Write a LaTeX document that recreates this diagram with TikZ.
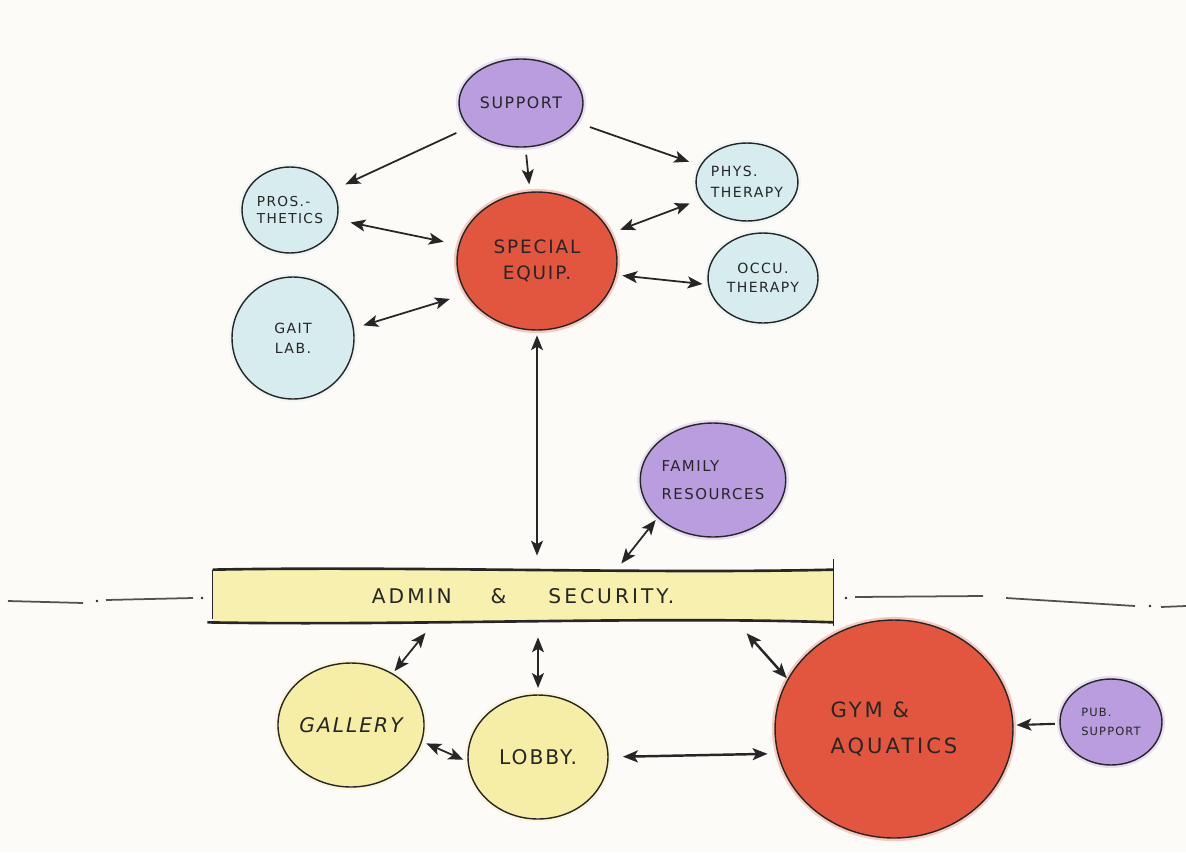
\documentclass[tikz,border=0pt]{standalone}
\usepackage{fontspec}
\setmainfont{DejaVu Sans}[LetterSpace=10]
\usetikzlibrary{arrows.meta,shapes.geometric,calc}
\definecolor{paper}{HTML}{FCFBF8}
\definecolor{inkc}{HTML}{262626}
\definecolor{lilac}{HTML}{B99DDF}
\definecolor{ice}{HTML}{D7ECEF}
\definecolor{tomato}{HTML}{E2563F}
\definecolor{butter}{HTML}{F6EDA6}
\definecolor{barfill}{HTML}{F7F0AE}
\tikzset{
  myhead/.tip={Stealth[length=8.5pt,width=6.8pt,inset=2pt]},
}
\begin{document}
\begin{tikzpicture}[x=0.02cm,y=-0.02cm,
  bubble/.style={ellipse, draw=inkc, line width=0.8pt, inner sep=0pt, outer sep=0pt, text=inkc,
                 fill=#1, preaction={draw=#1, draw opacity=0.3, line width=3.5pt}},
  one/.style={line width=1pt, draw=inkc, -myhead},
  two/.style={line width=1pt, draw=inkc, myhead-myhead},
  axisline/.style={line width=1pt, draw=inkc!80},
]
\fill[paper] (0,0) rectangle (1186,852);
\useasboundingbox (0,0) rectangle (1186,852);

% ---- dash-dot axis ----
\draw[axisline] (8,601) -- (83,603);
\draw[axisline] (106,600) -- (193,598);
\fill[inkc] (97,601) circle (1.3) (202,598) circle (1.3);
\draw[axisline] (855,597) -- (983,596);
\draw[axisline] (1006,598) -- (1135,606);
\draw[axisline] (1161,607) -- (1186,606);
\fill[inkc] (846,598) circle (1.3) (1150,606) circle (1.3);

% ---- nodes ----
\node[bubble=lilac, minimum width=2.48cm, minimum height=1.76cm,
      font=\fontsize{9}{11}\selectfont] (support) at (521,103) {SUPPORT};
\node[bubble=ice, minimum width=1.92cm, minimum height=1.72cm, align=left,
      font=\fontsize{7.8}{9.5}\selectfont] (pros) at (290,210) {PROS.-\\THETICS};
\node[bubble=ice, minimum width=1.96cm, minimum height=1.56cm, align=left,
      font=\fontsize{8}{12}\selectfont] (phys) at (747,182) {PHYS.\\THERAPY};
\node[bubble=tomato, minimum width=3.2cm, minimum height=2.76cm, align=center,
      font=\fontsize{10.5}{15}\selectfont] (special) at (537,261) {SPECIAL\\EQUIP.};
\node[bubble=ice, minimum width=2.2cm, minimum height=1.8cm, align=center,
      font=\fontsize{8}{10.5}\selectfont] (occu) at (763,278) {OCCU.\\THERAPY};
\node[bubble=ice, minimum width=2.44cm, minimum height=2.44cm, align=center,
      font=\fontsize{8}{11.5}\selectfont] (gait) at (293,338) {GAIT\\LAB.};
\node[bubble=lilac, minimum width=2.88cm, minimum height=2.28cm, align=left,
      font=\fontsize{8.5}{16}\selectfont] (family) at (713,480) {FAMILY\\RESOURCES};

\node[fill=barfill, minimum width=12.4cm, minimum height=1.04cm, inner sep=0pt,
      text=inkc, font=\fontsize{11.5}{13}\selectfont\addfontfeature{LetterSpace=15}]
      (admin) at (523,596) {ADMIN\hspace{22pt}\&\hspace{24pt}SECURITY.\hspace{26pt}};
\draw[inkc, line width=1.5pt] (admin.north west) .. controls (400,566) and (650,574) .. (admin.north east);
\draw[inkc, line width=1.5pt] ([xshift=-3pt]admin.south west) .. controls (400,626) and (650,616) .. (admin.south east);
\draw[inkc, line width=0.8pt] (admin.north west) -- ([yshift=2pt]admin.south west);
\draw[inkc, line width=0.8pt] ([yshift=6pt]admin.north east) -- ([yshift=-2pt]admin.south east);

\node[bubble=butter, minimum width=2.76cm, minimum height=2.48cm,
      font=\fontsize{11.5}{13}\selectfont\itshape] (gallery) at (351,725) {GALLERY};
\node[bubble=butter, minimum width=2.8cm, minimum height=2.48cm,
      font=\fontsize{11.5}{13}\selectfont] (lobby) at (538,757) {LOBBY.};
\node[bubble=tomato, minimum width=4.76cm, minimum height=4.36cm, align=left,
      font=\fontsize{12}{20}\selectfont\addfontfeature{LetterSpace=14}] (gym) at (894,729) {GYM \&\\AQUATICS};
\node[bubble=lilac, minimum width=2.04cm, minimum height=1.72cm, align=left,
      font=\fontsize{6.5}{11}\selectfont] (pub) at (1111,722) {PUB.\\SUPPORT};

% ---- anchor points on the admin bar ----
\coordinate (fa) at (617,569);
\coordinate (ga) at (431,626);
\coordinate (ya) at (742,628);

% ---- connectors ----
\draw[one, shorten <=8pt, shorten >=8pt] (support) -- (pros);
\draw[one, shorten <=4.5pt, shorten >=4.5pt] (support) -- (special);
\draw[one, shorten <=8pt, shorten >=7pt] (support) -- (phys);
\draw[two, shorten <=8pt, shorten >=9pt] (pros) -- (special);
\draw[two, shorten <=7pt, shorten >=6pt] (phys) -- (special);
\draw[two, shorten <=4pt, shorten >=3.5pt] (special.-10) -- (occu.187);
\draw[two, shorten <=6pt, shorten >=10pt] (gait.9) -- (special.205);
\draw[two, shorten <=3pt, shorten >=8pt] (special.south) -- (special.south |- admin.north);
\draw[two, shorten <=2pt, shorten >=4pt] (family.214) -- (fa);
\draw[two, shorten <=5pt, shorten >=2pt] (ga) -- (gallery);
\draw[two, shorten <=4pt, shorten >=8.5pt] (lobby.north) -- (lobby.north |- admin.south);
\draw[two, line width=1.4pt, shorten <=4pt, shorten >=1pt] (ya) -- (gym.155);
\draw[two, shorten <=3pt, shorten >=3pt] (gallery.-13) -- (lobby.184);
\draw[two, line width=1.4pt, shorten <=8.5pt, shorten >=6pt] (lobby.0) -- (gym.192);
\draw[one, line width=1.2pt, shorten <=3pt, shorten >=2pt] (pub) -- (gym);
\end{tikzpicture}
\end{document}
